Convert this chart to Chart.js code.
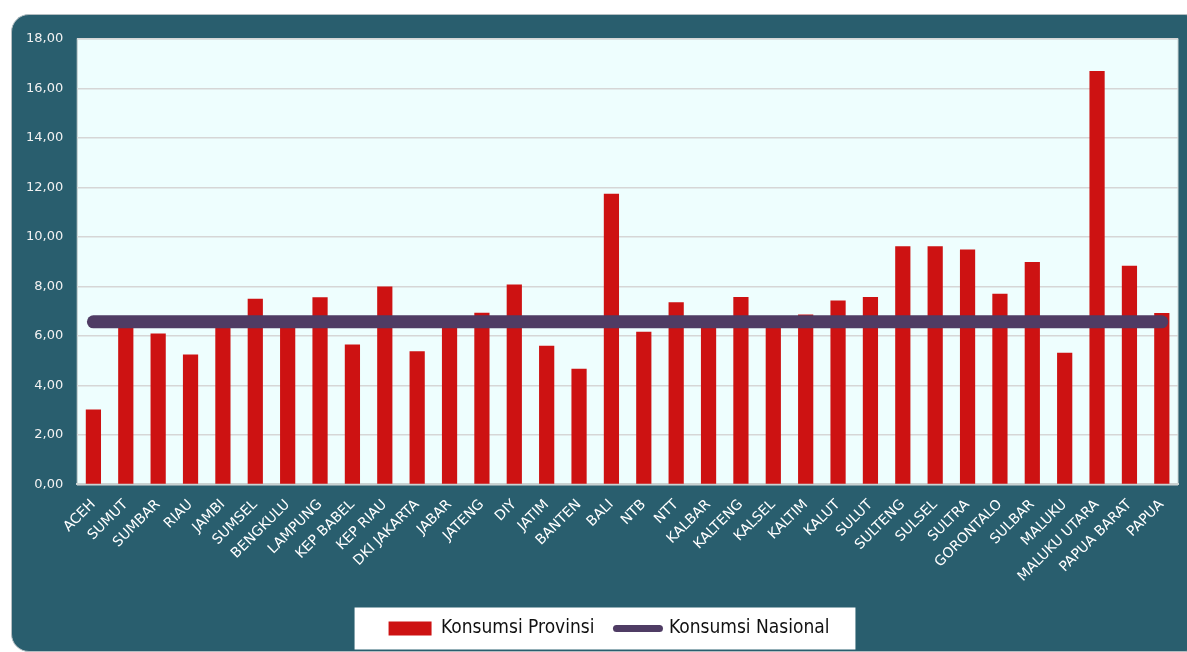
<!DOCTYPE html>
<html>
<head>
<meta charset="utf-8">
<script src="https://cdn.jsdelivr.net/npm/chart.js@4/dist/chart.umd.min.js"></script>
<style>
  html, body { margin: 0; padding: 0; background: #ffffff; }
  body { width: 1187px; height: 652px; position: relative; overflow: hidden; }
  #panel {
    position: absolute; left: 11px; top: 14px; width: 1190px; height: 636px;
    background: #295e6e; border: 1px solid #b4bec2; border-radius: 18px;
  }
  #wrap { position: absolute; left: 0; top: 0; width: 1187px; height: 652px; }
</style>
</head>
<body>
<div id="panel"></div>
<div id="wrap"><canvas id="chart"></canvas></div>
<script>
// provinsi
var provinsi = ['ACEH', 'SUMUT', 'SUMBAR', 'RIAU', 'JAMBI', 'SUMSEL', 'BENGKULU', 'LAMPUNG',
    'KEP BABEL', 'KEP RIAU', 'DKI JAKARTA', 'JABAR', 'JATENG', 'DIY', 'JATIM', 'BANTEN', 'BALI',
    'NTB', 'NTT', 'KALBAR', 'KALTENG', 'KALSEL', 'KALTIM', 'KALUT', 'SULUT', 'SULTENG', 'SULSEL',
    'SULTRA', 'GORONTALO', 'SULBAR', 'MALUKU', 'MALUKU UTARA', 'PAPUA BARAT', 'PAPUA'];

var konsumsiProvinsi = [3.03, 6.5, 6.10, 5.25, 6.5, 7.50, 6.45, 7.56,
    5.65, 8.00, 5.38, 6.45, 6.94, 8.08, 5.60, 4.67, 11.75,
    6.17, 7.36, 6.45, 7.57, 6.5, 6.87, 7.43, 7.57, 9.62, 9.62,
    9.49, 7.70, 8.99, 5.32, 16.71, 8.84, 6.93];

var konsumsiNasional = [6.57, 6.57, 6.57, 6.57, 6.57, 6.57, 6.57, 6.57, 6.57, 6.57, 6.57, 6.57,
    6.57, 6.57, 6.57, 6.57, 6.57, 6.57, 6.57, 6.57, 6.57, 6.57, 6.57, 6.57, 6.57, 6.57, 6.57,
    6.57, 6.57, 6.57, 6.57, 6.57, 6.57, 6.57];

Chart.defaults.font.family = "'DejaVu Sans', sans-serif";

// plot background + white legend box
var bgPlugin = {
    id: 'bg',
    afterLayout: function(chart) {
        // legend sits a little right of centre in the original
        var lg = chart.legend, dx = 14;
        lg.left += dx;
        lg.right += dx;
        (lg.legendHitBoxes || []).forEach(function(hb) { hb.left += dx; });
    },
    beforeDraw: function(chart) {
        var ctx = chart.ctx, a = chart.chartArea;
        ctx.save();
        ctx.fillStyle = '#eefefe';
        ctx.fillRect(a.left, a.top, a.right - a.left, a.bottom - a.top);
        ctx.strokeStyle = '#c9d2d2';
        ctx.lineWidth = 1;
        ctx.strokeRect(a.left, a.top, a.right - a.left, a.bottom - a.top);

        var boxes = chart.legend.legendHitBoxes;
        if (boxes && boxes.length) {
            var l = boxes[0].left, r = boxes[boxes.length - 1].left + boxes[boxes.length - 1].width;
            var cy = boxes[0].top + boxes[0].height / 2;
            ctx.fillStyle = '#ffffff';
            ctx.fillRect(l - 34, cy - 21, (r - l) + 60, 42);
        }
        ctx.restore();
    }
};

var ctx = document.getElementById('chart').getContext('2d');
var chart = new Chart(ctx, {
    type: 'bar',
    data: {
        labels: provinsi,
        datasets: [{
            type: 'bar',
            label: 'Konsumsi Provinsi',
            data: konsumsiProvinsi,
            backgroundColor: '#cd1212',
            borderWidth: 0,
            barPercentage: 0.47,
            categoryPercentage: 1,
            order: 2
        }, {
            type: 'line',
            label: 'Konsumsi Nasional',
            data: konsumsiNasional,
            borderColor: '#4f3c64',
            backgroundColor: '#4f3c64',
            borderWidth: 13,
            borderCapStyle: 'round',
            pointRadius: 0,
            tension: 0,
            order: 1
        }]
    },
    options: {
        responsive: true,
        maintainAspectRatio: false,
        animation: false,
        layout: {
            padding: { left: 12, right: 9, top: 39, bottom: 4 }
        },
        plugins: {
            tooltip: { enabled: false },
            legend: {
                position: 'bottom',
                labels: {
                    color: '#111111',
                    font: { size: 19, family: "'DejaVu Sans Condensed', 'DejaVu Sans', sans-serif" },
                    usePointStyle: true,
                    pointStyleWidth: 43,
                    boxHeight: 14,
                    padding: 22,
                    sort: function(a, b) { return a.datasetIndex - b.datasetIndex; },
                    generateLabels: function(chart) {
                        return [{
                            text: 'Konsumsi Provinsi', datasetIndex: 0,
                            fillStyle: '#cd1212', strokeStyle: '#cd1212', lineWidth: 0,
                            pointStyle: 'rect', fontColor: '#111111'
                        }, {
                            text: 'Konsumsi Nasional', datasetIndex: 1,
                            fillStyle: '#4f3c64', strokeStyle: '#4f3c64', lineWidth: 7,
                            lineCap: 'round', pointStyle: 'line', fontColor: '#111111'
                        }];
                    }
                }
            }
        },
        scales: {
            x: {
                grid: { display: false, drawTicks: false },
                border: { color: '#c9d2d2', width: 2 },
                ticks: {
                    color: '#ffffff',
                    font: { size: 14 },
                    autoSkip: false,
                    minRotation: 45,
                    maxRotation: 45,
                    padding: 12
                }
            },
            y: {
                min: 0,
                max: 18,
                grid: { color: '#d6d6d6', lineWidth: 1.5, drawTicks: false },
                border: { display: false },
                ticks: {
                    stepSize: 2,
                    color: '#f2f2f2',
                    font: { size: 13 },
                    padding: 14,
                    callback: function(v) { return v.toFixed(2).replace('.', ','); }
                }
            }
        }
    },
    plugins: [bgPlugin]
});
</script>
</body>
</html>
